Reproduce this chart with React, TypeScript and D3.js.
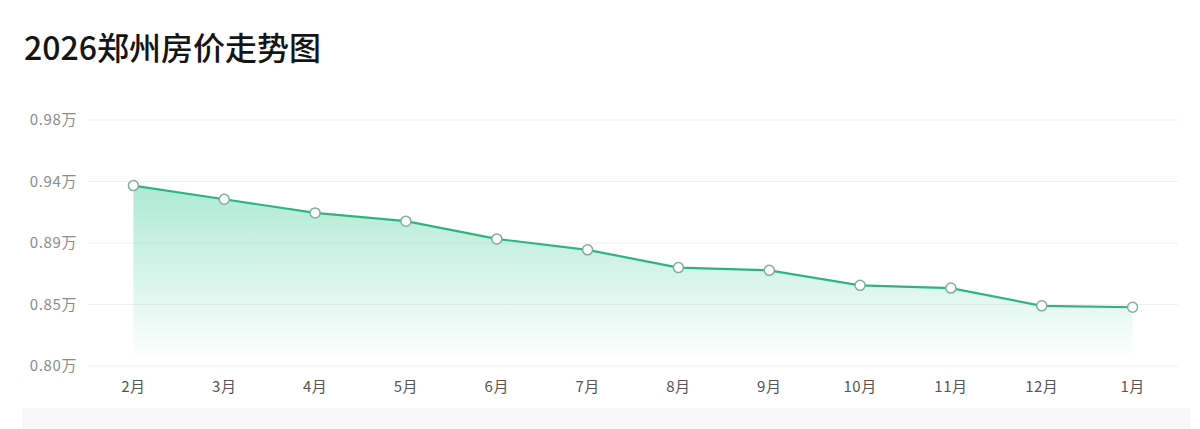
import React from "react";
import * as d3 from "d3";

const title = "2026郑州房价走势图";
const months = ["2月", "3月", "4月", "5月", "6月", "7月", "8月", "9月", "10月", "11月", "12月", "1月"];
const prices = [0.932, 0.922, 0.912, 0.906, 0.893, 0.885, 0.872, 0.870, 0.859, 0.857, 0.844, 0.843];
const yTicks = [0.8, 0.845, 0.89, 0.935, 0.98];
const yTickLabels = ["0.80万", "0.85万", "0.89万", "0.94万", "0.98万"];
const yDomain = [0.8, 0.98];

const W = 1200;
const H = 429;
const left = 88;
const right = 1178;
const top = 120;
const bottom = 366;

export default function App() {
  const x = d3.scaleBand<string>().domain(months).range([left, right]);
  const y = d3.scaleLinear().domain(yDomain).range([bottom, top]);
  const cx = (m: string) => (x(m) ?? 0) + x.bandwidth() / 2;
  const data = months.map((m, i) => ({ m, v: prices[i] }));
  const line = d3.line<{ m: string; v: number }>().x((d) => cx(d.m)).y((d) => y(d.v));
  const area = d3
    .area<{ m: string; v: number }>()
    .x((d) => cx(d.m))
    .y0(bottom - 12)
    .y1((d) => y(d.v));

  return (
    <svg
      width={W}
      height={H}
      style={{ position: "absolute", left: 0, top: 0, background: "#fff" }}
      fontFamily="'Noto Sans CJK SC', 'Noto Sans', sans-serif"
    >
      <defs>
        <linearGradient id="fillGrad" x1="0" y1="0" x2="0" y2="1">
          <stop offset="0%" stopColor="#3dcc98" stopOpacity={0.42} />
          <stop offset="100%" stopColor="#3dcc98" stopOpacity={0.02} />
        </linearGradient>
      </defs>
      <rect x={0} y={0} width={W} height={H} fill="#fff" />
      <text x={24} y={60} fontSize={32} fontWeight={500} fill="#151515">
        {title}
      </text>
      {yTicks.map((t, i) => (
        <g key={t}>
          <line x1={left} x2={right} y1={y(t)} y2={y(t)} stroke="#f0f0f0" strokeWidth={1} />
          <text x={77} y={y(t)} dy="0.35em" textAnchor="end" fontSize={15} fill="#8c8c8c" letterSpacing={0.6}>
            {yTickLabels[i]}
          </text>
        </g>
      ))}
      <path d={area(data) ?? ""} fill="url(#fillGrad)" />
      <path d={line(data) ?? ""} fill="none" stroke="#2fb383" strokeWidth={2.2} />
      {data.map((d) => (
        <circle key={d.m} cx={cx(d.m)} cy={y(d.v)} r={5} fill="#fff" stroke="#7fae9e" strokeWidth={1.5} />
      ))}
      {months.map((m) => (
        <text key={m} x={cx(m)} y={392} textAnchor="middle" fontSize={15} fill="#555" letterSpacing={0.5}>
          {m}
        </text>
      ))}
      <rect x={22} y={408} width={1168} height={21} fill="#f8f8f8" />
    </svg>
  );
}
